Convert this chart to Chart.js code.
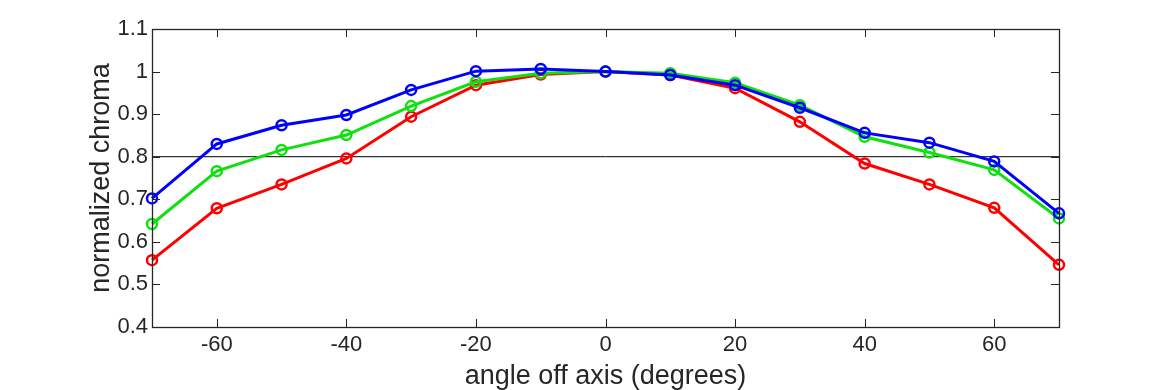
<!DOCTYPE html>
<html>
<head>
<meta charset="utf-8">
<script src="https://cdn.jsdelivr.net/npm/chart.js@4"></script>
<style>
  html, body { margin: 0; padding: 0; background: #fff; }
  #wrap { width: 1170px; height: 390px; }
</style>
</head>
<body>
<div id="wrap"><canvas id="myChart" width="1170" height="390"></canvas></div>
<script>
'use strict';

let angles = [-70, -60, -50, -40, -30, -20, -10, 0, 10, 20, 30, 40, 50, 60, 70];
let blue_vals = [0.702, 0.830, 0.874, 0.898, 0.957, 1.001, 1.006, 1.000, 0.992, 0.968, 0.915, 0.856, 0.833, 0.789, 0.667];
let green_vals = [0.642, 0.766, 0.816, 0.851, 0.919, 0.976, 0.996, 1.000, 0.996, 0.974, 0.921, 0.847, 0.810, 0.769, 0.655];
let red_vals = [0.557, 0.679, 0.735, 0.796, 0.894, 0.968, 0.993, 1.000, 0.992, 0.961, 0.882, 0.784, 0.735, 0.680, 0.546];
let ref_line = 0.8;
let x_ticks = [-60, -40, -20, 0, 20, 40, 60];
let y_ticks = [0.4, 0.5, 0.6, 0.7, 0.8, 0.9, 1, 1.1];

let font_family = '"Liberation Sans", Arial, Helvetica, sans-serif';
let axis_color = '#262626';

function make_points(vals) {
  let pts = [];
  for (let i = 0; i < angles.length; i++) {
    pts.push({ x: angles[i], y: vals[i] });
  }
  return pts;
}

function series(vals, color) {
  return {
    data: make_points(vals),
    borderColor: color,
    backgroundColor: 'rgba(0,0,0,0)',
    borderWidth: 3,
    pointRadius: 5,
    pointBorderWidth: 2.5,
    pointBorderColor: color,
    pointBackgroundColor: 'rgba(0,0,0,0)',
    pointHoverRadius: 5,
    tension: 0,
    clip: false
  };
}

// box + inward ticks, like the original figure
let boxPlugin = {
  id: 'boxTicks',
  afterDatasetsDraw(chart) {
    let ctx = chart.ctx;
    let a = chart.chartArea;
    let xs = chart.scales.x;
    let ys = chart.scales.y;
    let len = 8;
    ctx.save();
    ctx.strokeStyle = axis_color;
    ctx.lineWidth = 1;
    ctx.beginPath();
    for (let t of x_ticks) {
      let px = Math.round(xs.getPixelForValue(t)) + 0.5;
      ctx.moveTo(px, a.bottom); ctx.lineTo(px, a.bottom - len);
      ctx.moveTo(px, a.top); ctx.lineTo(px, a.top + len);
    }
    for (let t of y_ticks) {
      let py = Math.round(ys.getPixelForValue(t)) + 0.5;
      ctx.moveTo(a.left, py); ctx.lineTo(a.left + len, py);
      ctx.moveTo(a.right, py); ctx.lineTo(a.right - len, py);
    }
    ctx.stroke();
    ctx.lineWidth = 1.3;
    ctx.strokeRect(Math.round(a.left) + 0.5, Math.round(a.top) + 0.5,
      Math.round(a.right - a.left), Math.round(a.bottom - a.top));
    ctx.restore();
  }
};

let ctx = document.getElementById('myChart').getContext('2d');
let myChart = new Chart(ctx, {
  type: 'line',
  data: {
    datasets: [
      {
        data: [{ x: angles[0], y: ref_line }, { x: angles[angles.length - 1], y: ref_line }],
        borderColor: '#000',
        borderWidth: 1,
        pointRadius: 0,
        order: 5
      },
      series(blue_vals, '#0000ff'),
      series(green_vals, '#10e010'),
      series(red_vals, '#ff0000')
    ]
  },
  plugins: [boxPlugin],
  options: {
    responsive: false,
    animation: false,
    layout: { padding: { top: 29, right: 111, left: 0, bottom: 0 } },
    plugins: {
      legend: { display: false },
      tooltip: { enabled: false }
    },
    scales: {
      x: {
        type: 'linear',
        min: -70,
        max: 70,
        afterBuildTicks(scale) {
          scale.ticks = x_ticks.map(v => ({ value: v }));
        },
        afterFit(scale) { scale.height = 63; },
        grid: { display: false, drawTicks: false },
        border: { display: false },
        ticks: {
          color: axis_color,
          padding: 5,
          maxRotation: 0,
          font: { family: font_family, size: 22 }
        },
        title: {
          display: true,
          text: 'angle off axis (degrees)',
          color: axis_color,
          padding: { top: 0, bottom: 0 },
          font: { family: font_family, size: 27, lineHeight: 1 }
        }
      },
      y: {
        type: 'linear',
        min: 0.4,
        max: 1.1,
        afterBuildTicks(scale) {
          scale.ticks = y_ticks.map(v => ({ value: v }));
        },
        afterFit(scale) { scale.width = 152; },
        grid: { display: false, drawTicks: false },
        border: { display: false },
        ticks: {
          color: axis_color,
          padding: 4,
          font: { family: font_family, size: 22 },
          callback: v => String(Math.round(v * 10) / 10)
        },
        title: {
          display: true,
          text: 'normalized chroma',
          color: axis_color,
          padding: { top: 88, bottom: 0 },
          font: { family: font_family, size: 27, lineHeight: 1 }
        }
      }
    }
  }
});
</script>
</body>
</html>
